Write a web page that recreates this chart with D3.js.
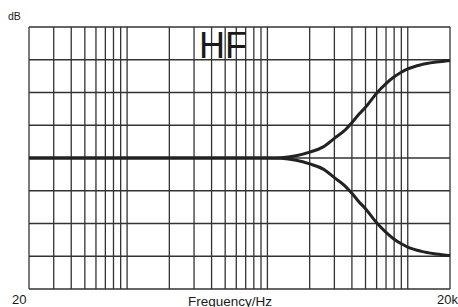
<!DOCTYPE html>
<html><head><meta charset="utf-8">
<script src="https://cdn.jsdelivr.net/npm/d3@7"></script>
<style>body{margin:0;background:#fff}svg{display:block}text{font-family:"Liberation Sans",Arial,sans-serif;fill:#1a1a1a}</style>
</head><body><svg id="c" width="458" height="307"></svg>
<script>
// Data
const freqGrid = [20,30,40,50,60,70,80,90,100,200,300,400,500,600,700,800,900,1000,2000,3000,4000,5000,6000,7000,8000,9000,10000,20000];
const dbGrid = [-20,-15,-10,-5,0,5,10,15,20];
const freqs = [20,100,500,1000,1250,1600,2000,2500,3000,3500,4000,4500,5000,6000,7000,8000,9000,10000,12500,16000,20000];
const boost = [0,0,0,0,0.05,0.35,0.9,1.7,3.0,4.1,5.4,6.7,7.75,9.9,11.35,12.4,13.1,13.6,14.25,14.65,14.9];
const cut   = [0,0,0,0,-0.05,-0.35,-0.9,-1.7,-3.0,-4.1,-5.4,-6.7,-7.75,-9.9,-11.35,-12.4,-13.1,-13.6,-14.25,-14.65,-14.9];
const xTickLabels = ["20","20k"];

const svg = d3.select("#c");
const L=29,R=450,T=27,B=289;
const x = d3.scaleLog().domain([20,20000]).range([L,R]);
const y = d3.scaleLinear().domain([-20,20]).range([B,T]);

const g = svg.append("g");
g.selectAll("line.v").data(freqGrid).join("line")
  .attr("x1",d=>x(d)).attr("x2",d=>x(d)).attr("y1",T).attr("y2",B)
  .attr("stroke","#333").attr("stroke-width",1.3);
g.selectAll("line.h").data(dbGrid).join("line")
  .attr("x1",L).attr("x2",R).attr("y1",d=>y(d)).attr("y2",d=>y(d))
  .attr("stroke","#333").attr("stroke-width",1.3);

const line = d3.line().x(d=>x(d[0])).y(d=>y(d[1])).curve(d3.curveMonotoneX);
[boost,cut].forEach(s=>{
  g.append("path").datum(freqs.map((f,i)=>[f,s[i]])).attr("d",line)
   .attr("fill","none").attr("stroke","#222").attr("stroke-width",3);
});

svg.append("text").attr("x",8).attr("y",20).attr("font-size",10.5).text("dB");
svg.append("text").attr("x",223).attr("y",58).attr("font-size",36).attr("text-anchor","middle").text("HF");
svg.append("text").attr("x",12).attr("y",304).attr("font-size",13).text(xTickLabels[0]);
svg.append("text").attr("x",458).attr("y",304).attr("font-size",13).attr("text-anchor","end").text(xTickLabels[1]);
svg.append("text").attr("x",230).attr("y",306).attr("font-size",13.5).attr("text-anchor","middle").text("Frequency/Hz");
</script></body></html>
